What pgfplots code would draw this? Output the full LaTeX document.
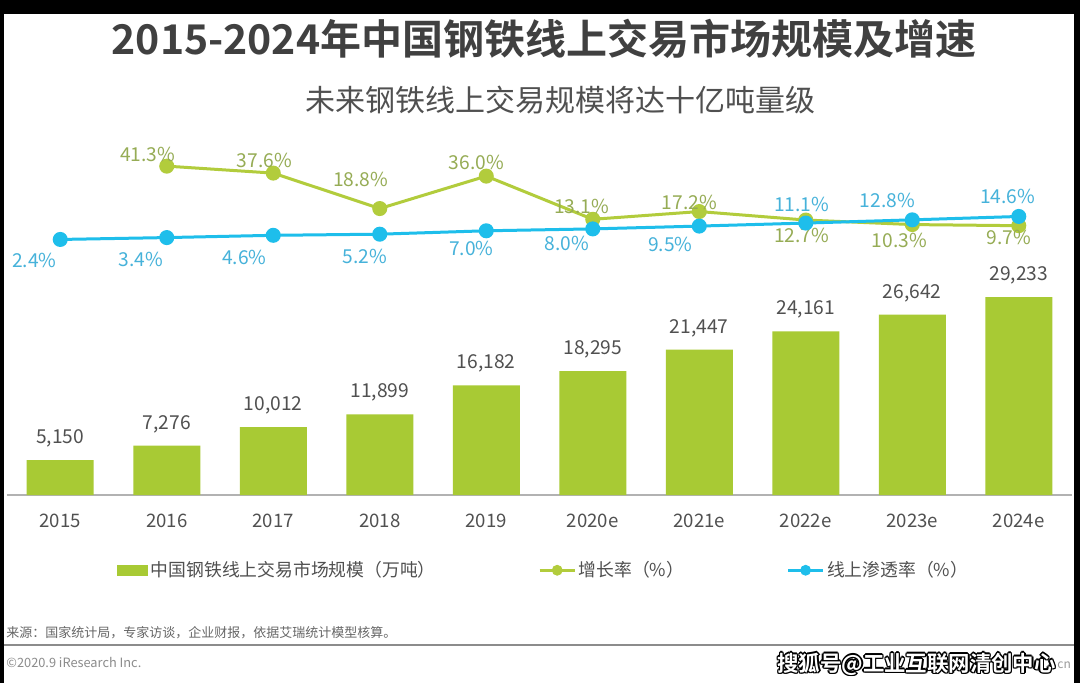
\documentclass[border=0pt]{standalone}
\usepackage{fontspec}
\setmainfont{Noto Sans CJK SC}[BoldFont={Noto Sans CJK SC Bold}]
\usepackage{pgfplots}
\pgfplotsset{compat=1.18}
\usepackage{pgfplotstable}
\pgfkeys{/pgf/number format/assume math mode=true}

\definecolor{barg}{RGB}{168,202,52}
\definecolor{lineg}{RGB}{178,204,60}
\definecolor{linec}{RGB}{30,190,235}
\definecolor{labg}{RGB}{150,172,85}
\definecolor{labc}{RGB}{70,178,218}
\definecolor{txt}{RGB}{80,80,80}
\definecolor{ttl}{RGB}{64,64,64}

\pgfplotstableread{
x y
0 5150
1 7276
2 10012
3 11899
4 16182
5 18295
6 21447
7 24161
8 26642
9 29233
}\bars

\pgfplotstableread{
x y dx dy
1 41.3 -9.5 6.05
2 37.6 -4.5 6.2
3 18.8 -9.5 14.6
4 36.0 -5 6.9
5 13.1 -5.5 6.35
6 17.2 -5 4.65
7 12.7 -2 -7.55
8 10.3 -6.5 -7.75
9 9.7 -5 -5.85
}\growth

\pgfplotstableread{
x y dx dy
0 2.4 -13 -10.35
1 3.4 -13 -10.85
2 4.6 -14.5 -10.95
3 5.2 -7.5 -11.35
4 7.0 -7.5 -8.95
5 8.0 -13 -7.2
6 9.5 -14.5 -8.95
7 11.1 -2 9.15
8 12.8 -12.5 9.8
9 14.6 -5.5 10
}\pen

\newcommand{\wm}{搜狐号@工业互联网清创中心}

\begin{document}
\begin{tikzpicture}
\begin{scope}[x=0.5pt,y=-0.5pt]
\fill[black] (0,0) rectangle (1080,683);
\fill[white] (4,14) rectangle (1074,683);
\node[font=\fontsize{20.5}{24}\selectfont\bfseries, text=ttl, inner sep=0pt] at (544,39) {2015-2024年中国钢铁线上交易市场规模及增速};
\node[font=\fontsize{15}{18}\selectfont, text=txt, inner sep=0pt] at (560.5,100) {未来钢铁线上交易规模将达十亿吨量级};
\draw[black!45, line width=1pt] (4,645) -- (1074,645);
\node[anchor=west, font=\fontsize{6.5}{8}\selectfont, text=black!60, inner sep=0pt] at (6,633) {来源：国家统计局，专家访谈，企业财报，依据艾瑞统计模型核算。};
\node[anchor=west, font=\fontsize{6.4}{8}\selectfont, text=black!45, inner sep=0pt] at (6,662) {©2020.9 iResearch Inc.};
\foreach \ox/\oy in {-1.4/0,1.4/0,0/-1.4,0/1.4,-1/-1,1/1,-1/1,1/-1}{
  \node[anchor=west, font=\fontsize{10.7}{12}\selectfont\bfseries, text=black, inner sep=0pt] at (777+\ox,664+\oy) {\wm};
}
\node[anchor=west, font=\fontsize{10.7}{12}\selectfont\bfseries, text=white, inner sep=0pt] at (777,664) {\wm};
\node[anchor=west, font=\fontsize{6}{8}\selectfont, text=black!40, inner sep=0pt] at (1057,665) {cn};
\end{scope}

\begin{axis}[
  at={(3.5pt,-247.5pt)}, anchor=south west,
  scale only axis, width=532.5pt, height=177.5pt,
  xmin=-0.5, xmax=9.5, ymin=0, ymax=52414,
  axis x line=bottom, axis y line=none,
  x axis line style={-, draw=black!30, line width=0.8pt},
  xtick={0,...,9},
  xticklabels={2015,2016,2017,2018,2019,2020e,2021e,2022e,2023e,2024e},
  major tick length=0pt,
  xticklabel style={anchor=center, yshift=-12.75pt, font=\fontsize{9.3}{11}\selectfont, text=txt},
  ytick=\empty,
  clip=false,
  legend columns=3,
  legend style={at={(0.1033,-0.212)}, anchor=west, draw=none, fill=none,
    inner sep=0pt, nodes={inner sep=1.25pt},
    font=\fontsize{8.9}{10}\selectfont, text=txt,
    /tikz/every even column/.append style={column sep=50pt}},
]
\addplot[ybar, bar width=33.5pt, fill=barg, draw=none,
  nodes near coords={\pgfmathprintnumber[fixed,precision=0,1000 sep={,}]{\pgfplotspointmeta}},
  every node near coord/.append style={anchor=center, yshift=10.8pt, font=\fontsize{9.6}{11}\selectfont, text=txt},
  legend image code/.code={\fill[barg] (0pt,-2.75pt) rectangle (15.5pt,2.75pt);}
] table[x=x,y=y] {\bars};
\addlegendentry{中国钢铁线上交易市场规模（万吨）}
\addlegendimage{lineg, legend image code/.code={\draw[lineg, line width=1.5pt] (0pt,0pt) -- (17.5pt,0pt); \fill[lineg] (8.75pt,0pt) circle (2.5pt);}}
\addlegendentry{增长率（\%）}
\addlegendimage{linec, legend image code/.code={\draw[linec, line width=1.5pt] (0pt,0pt) -- (17.5pt,0pt); \fill[linec] (8.75pt,0pt) circle (2.5pt);}}
\addlegendentry{线上渗透率（\%）}
\end{axis}

\begin{axis}[
  at={(3.5pt,-247.5pt)}, anchor=south west,
  scale only axis, width=532.5pt, height=177.5pt,
  xmin=-0.5, xmax=9.5, ymin=-133.16, ymax=55.17,
  hide axis, clip=false,
  nodes near coords={\pgfmathprintnumber[fixed,fixed zerofill,precision=1]{\pgfplotspointmeta}\%},
  visualization depends on={\thisrow{dx} \as \dx},
  visualization depends on={\thisrow{dy} \as \dy},
]
\addplot[lineg, line width=1.5pt, mark=*, mark size=3pt,
  every node near coord/.append style={anchor=center, xshift=\dx pt, yshift=\dy pt, font=\fontsize{9.6}{11}\selectfont, text=labg}
] table[x=x,y=y] {\growth};
\addplot[linec, line width=1.5pt, mark=*, mark size=3pt,
  every node near coord/.append style={anchor=center, xshift=\dx pt, yshift=\dy pt, font=\fontsize{9.6}{11}\selectfont, text=labc}
] table[x=x,y=y] {\pen};
\end{axis}
\end{tikzpicture}
\end{document}
